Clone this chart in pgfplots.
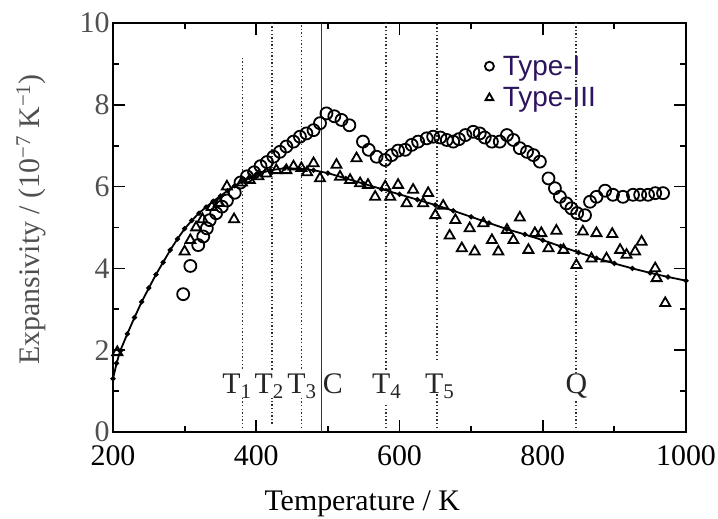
\documentclass[border=0pt]{standalone}
\usepackage{fontspec}
\setmainfont{Liberation Serif}
\newfontfamily\legfont{Liberation Sans}
\usepackage{pgfplots}
\pgfplotsset{compat=1.18}
\definecolor{legc}{RGB}{45,20,95}
\definecolor{ytl}{RGB}{80,80,80}
\begin{document}
\begin{tikzpicture}
\begin{axis}[name=ax, scale only axis, width=573bp, height=409bp,
  xmin=200, xmax=1000, ymin=0, ymax=10,
  xtick={200,400,...,1000}, ytick={0,2,...,10},
  minor x tick num=1, minor y tick num=1,
  tick align=inside, major tick length=12bp, minor tick length=6bp,
  axis line style={line width=2bp},
  every tick/.style={line width=1.8bp, black},
  tick label style={font=\fontsize{30}{32}\selectfont},
  xticklabel style={yshift=-12bp, inner sep=1bp},
  yticklabel style={text=ytl, inner ysep=1bp},
  /pgf/number format/assume math mode=true,
  /pgf/number format/1000 sep={},
  xlabel={Temperature / K},
  ylabel={Expansivity / (10\textsuperscript{−7} K\textsuperscript{−1})},
  label style={font=\fontsize{30}{32}\selectfont},
  xlabel style={at={(axis description cs:0.435,-0.175)}, anchor=center},
  ylabel style={at={(axis description cs:-0.143,0.52)}, anchor=center, text=ytl},
  legend style={legend cell align=left, draw=none, fill=none,
    font=\legfont\fontsize{28}{30}\selectfont, text=legc,
    at={(axis cs:719,9.25)}, anchor=north west, row sep=7bp, column sep=7bp,
    inner sep=0pt},
  legend image code/.code={\draw[#1, mark size=4.5bp] plot coordinates {(0cm,0cm)};},
]
% vertical reference lines
\pgfplotsset{vl/.style={black!80, line width=1.7bp, dash pattern=on 1.4bp off 2.2bp, forget plot}}
\addplot[vl] coordinates {(381,0.1) (381,0.85)};
\addplot[vl] coordinates {(381,1.55) (381,9.15)};
\addplot[vl] coordinates {(422,0.2) (422,0.83)};
\addplot[vl] coordinates {(422,1.52) (422,10)};
\addplot[vl] coordinates {(463,0.1) (463,0.85)};
\addplot[vl] coordinates {(463,1.55) (463,10)};
\addplot[black!80, line width=1.8bp, forget plot] coordinates {(491,0) (491,10)};
\addplot[vl] coordinates {(581,0.1) (581,0.7)};
\addplot[vl] coordinates {(581,1.52) (581,10)};
\addplot[vl] coordinates {(652,0.1) (652,0.95)};
\addplot[vl] coordinates {(652,1.76) (652,10)};
\addplot[vl] coordinates {(846,0.1) (846,0.78)};
\addplot[vl] coordinates {(846,1.44) (846,10)};
% fitted curve
\addplot[black, line width=1.8bp, mark=*, mark size=1.6bp, forget plot] coordinates {
(200,1.30) (205,1.68) (210,1.98) (220,2.40) (230,2.80) (240,3.18) (250,3.52)
(260,3.85) (270,4.15) (280,4.45) (290,4.72) (300,4.97) (310,5.17) (320,5.35)
(330,5.50) (340,5.64) (350,5.77) (360,5.90) (370,6.02) (380,6.12) (390,6.22)
(400,6.30) (420,6.40) (440,6.45) (460,6.44) (480,6.40) (500,6.33) (525,6.20)
(550,6.07) (575,5.94) (600,5.81) (625,5.68) (650,5.55) (675,5.41) (700,5.26)
(725,5.11) (750,4.96) (775,4.83) (800,4.69) (825,4.54) (850,4.39) (875,4.25)
(900,4.12) (925,4.00) (950,3.89) (975,3.79) (1000,3.70)};
% Type-I
\addplot[only marks, mark=o, mark size=6bp, line width=1.8bp, black] coordinates {
(298,3.37) (308,4.06) (319,4.57) (326,4.78) (331,4.98) (335,5.18) (344,5.35)
(352,5.51) (359,5.66) (370,5.85) (378,6.10) (387,6.25) (397,6.35) (406,6.50)
(415,6.60) (424,6.73) (433,6.85) (442,6.98) (452,7.10) (461,7.22) (470,7.30)
(480,7.38) (489,7.55) (498,7.79) (509,7.72) (519,7.63) (530,7.50) (549,7.10)
(557,6.90) (568,6.73) (580,6.65) (589,6.77) (598,6.88) (608,6.90) (617,7.02)
(626,7.10) (638,7.18) (647,7.22) (657,7.20) (666,7.14) (675,7.10) (683,7.16)
(692,7.26) (703,7.34) (712,7.30) (719,7.20) (729,7.10) (740,7.10) (750,7.26)
(759,7.14) (768,6.94) (778,6.85) (787,6.77) (796,6.61) (808,6.20) (817,5.96)
(824,5.75) (833,5.59) (840,5.47) (848,5.35) (859,5.30) (866,5.63) (875,5.75)
(887,5.90) (898,5.80) (912,5.75) (926,5.80) (936,5.80) (947,5.80) (957,5.84)
(968,5.84)};
\addlegendentry{Type-I}
% Type-III
\addplot[only marks, mark=triangle, mark size=5.8bp, line width=1.8bp, black] coordinates {
(206,1.95) (300,4.41) (308,4.69) (316,5.00) (325,5.20) (338,5.50) (348,5.60)
(359,6.00) (369,5.20) (380,6.10) (391,6.16) (403,6.25) (414,6.32) (428,6.40)
(442,6.40) (452,6.49) (463,6.45) (471,6.35) (480,6.57) (489,6.20) (512,6.53)
(517,6.24) (531,6.16) (540,6.69) (545,6.08) (556,6.04) (566,5.75) (580,6.00)
(587,5.75) (598,6.04) (610,5.59) (619,5.92) (633,5.59) (640,5.84) (650,5.30)
(661,5.53) (670,4.80) (678,5.18) (687,4.49) (698,4.98) (705,4.41) (717,5.10)
(729,4.69) (738,4.41) (750,4.94) (759,4.69) (768,5.24) (780,4.45) (789,4.86)
(798,4.86) (808,4.49) (819,4.92) (829,4.45) (847,4.08) (856,4.90) (868,4.24)
(875,4.86) (889,4.24) (897,4.84) (908,4.45) (917,4.33) (929,4.41) (938,4.65)
(957,4.00) (959,3.76) (971,3.15)};
\addlegendentry{Type-III}
% labels
\begin{scope}[every node/.style={font=\fontsize{30}{32}\selectfont, anchor=base, inner sep=0pt, text=black!85}]
\node at (axis cs:373,0.95) {T\textsubscript{1}};
\node at (axis cs:418,0.95) {T\textsubscript{2}};
\node at (axis cs:464,0.95) {T\textsubscript{3}};
\node at (axis cs:507,0.95) {C};
\node at (axis cs:582,0.95) {T\textsubscript{4}};
\node at (axis cs:656,0.95) {T\textsubscript{5}};
\node at (axis cs:847,0.95) {Q};
\end{scope}
\end{axis}
\pgfresetboundingbox
\path ([xshift=-113bp,yshift=-87bp]ax.south west) rectangle ([xshift=32bp,yshift=23bp]ax.north east);
\end{tikzpicture}
\end{document}
